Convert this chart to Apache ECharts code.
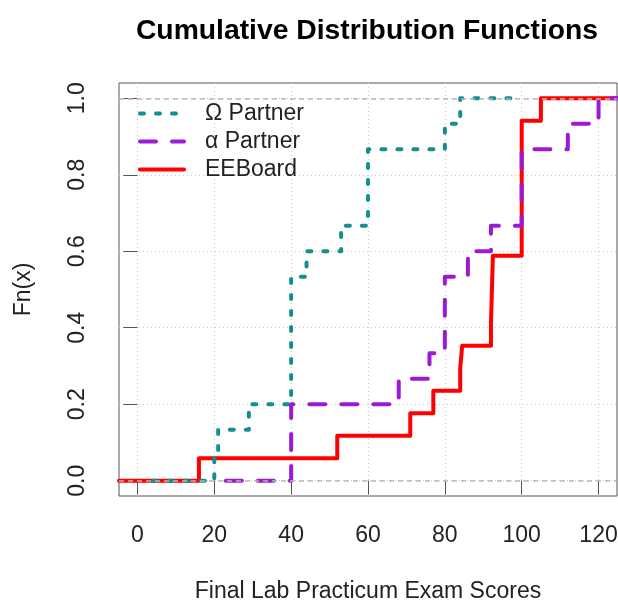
<!DOCTYPE html>
<html><head><meta charset="utf-8">
<script src="https://cdn.jsdelivr.net/npm/echarts@6/dist/echarts.min.js"></script>
<style>html,body{margin:0;padding:0;background:#fff}#c{width:618px;height:606px}</style>
</head><body><div id="c"></div>
<script>
// ---- data ----
const seriesNames = ['Ω Partner', 'α Partner', 'EEBoard'];
const omegaScores = [20, 21, 29, 40, 40, 40, 40, 40, 44, 53, 60, 60, 60, 80, 84];
const alphaScores = [40, 40, 40, 68, 76, 80, 80, 80, 86, 92, 100, 100, 100, 112, 120];
const eeboardScores = [16, 52, 71, 77, 84, 84.5, 92, 92.5, 92.5, 92.5, 100, 100, 100, 100, 100, 100, 105];
const omegaSpan = [4, 100];
const alphaSpan = [23, 124.8];
const eeboardSpan = [-4.8, 124.8];
const xRange = [-4.8, 124.8];
const yRange = [-0.04, 1.04];
const xTicks = [0, 20, 40, 60, 80, 100, 120];
const yTicks = [0, 0.2, 0.4, 0.6, 0.8, 1.0];
const refLevels = [0, 1];

function ecdfPoints(scores, span) {
  const s = scores.slice().sort((a, b) => a - b);
  const n = s.length;
  const pts = [[span[0], 0]];
  let i = 0;
  while (i < n) {
    const k = s[i];
    while (i < n && s[i] === k) i++;
    pts.push([k, i / n]);
  }
  pts.push([span[1], 1]);
  return pts;
}

const FONT = 'Liberation Sans, Arial, sans-serif';
const chart = echarts.init(document.getElementById('c'), null, {renderer: 'canvas'});

function stepSeries(name, pts, color, dash, z) {
  return {
    name: name, type: 'line', data: pts, step: 'end', symbol: 'none', showSymbol: false,
    animation: false, silent: true, z: z,
    itemStyle: {color: color},
    lineStyle: {color: color, width: 4, type: dash, cap: 'round', join: 'round'}
  };
}

const red = stepSeries(seriesNames[2], ecdfPoints(eeboardScores, eeboardSpan), '#ff0000', 'solid', 2);
red.markLine = {
  silent: true, symbol: ['none', 'none'], animation: false,
  label: {show: false},
  lineStyle: {color: '#b8b8b8', type: [5, 4], width: 1.5},
  data: refLevels.map(v => ({yAxis: v}))
};

chart.setOption({
  backgroundColor: '#fff',
  animation: false,
  title: {
    text: 'Cumulative Distribution Functions', left: 362, top: 12, textAlign: 'center',
    textStyle: {fontSize: 28.3, fontWeight: 'bold', color: '#000', fontFamily: FONT}
  },
  legend: {
    data: seriesNames, orient: 'vertical', left: 133, top: 97,
    itemWidth: 44, itemHeight: 14, itemGap: 5,
    itemStyle: {opacity: 0},
    lineStyle: {width: 4},
    textStyle: {fontSize: 23, color: '#222', fontFamily: FONT, padding: [0, 0, 0, 16]}
  },
  grid: {left: 119, right: 1, top: 83, bottom: 110, show: true, borderColor: '#555', borderWidth: 1,
         containLabel: false, outerBoundsMode: 'none'},
  xAxis: {
    type: 'value', min: xRange[0], max: xRange[1],
    axisLine: {show: false},
    axisTick: {show: true, length: 14, customValues: xTicks, lineStyle: {color: '#555'}},
    axisLabel: {customValues: xTicks, fontSize: 23, margin: 28, color: '#222', fontFamily: FONT},
    splitLine: {show: true, lineStyle: {color: '#c8c8c8', type: [1, 3]}},
    name: 'Final Lab Practicum Exam Scores', nameLocation: 'middle', nameGap: 84,
    nameTextStyle: {fontSize: 23, color: '#222', fontFamily: FONT}
  },
  yAxis: {
    type: 'value', min: yRange[0], max: yRange[1],
    axisLine: {show: false},
    axisTick: {show: true, length: 14, customValues: yTicks, lineStyle: {color: '#555'}},
    axisLabel: {customValues: yTicks, fontSize: 23, margin: 30, rotate: 90, color: '#222', fontFamily: FONT,
                formatter: v => Number(v).toFixed(1)},
    splitLine: {show: true, lineStyle: {color: '#c8c8c8', type: [1, 3]}},
    name: 'Fn(x)', nameLocation: 'middle', nameGap: 84, nameRotate: 90,
    nameTextStyle: {fontSize: 23, color: '#222', fontFamily: FONT}
  },
  series: [
    red,
    stepSeries(seriesNames[0], ecdfPoints(omegaScores, omegaSpan), '#138f8f', [4, 12], 3),
    stepSeries(seriesNames[1], ecdfPoints(alphaScores, alphaSpan), '#9a1ad6', [16, 16], 4)
  ]
});
</script></body></html>
